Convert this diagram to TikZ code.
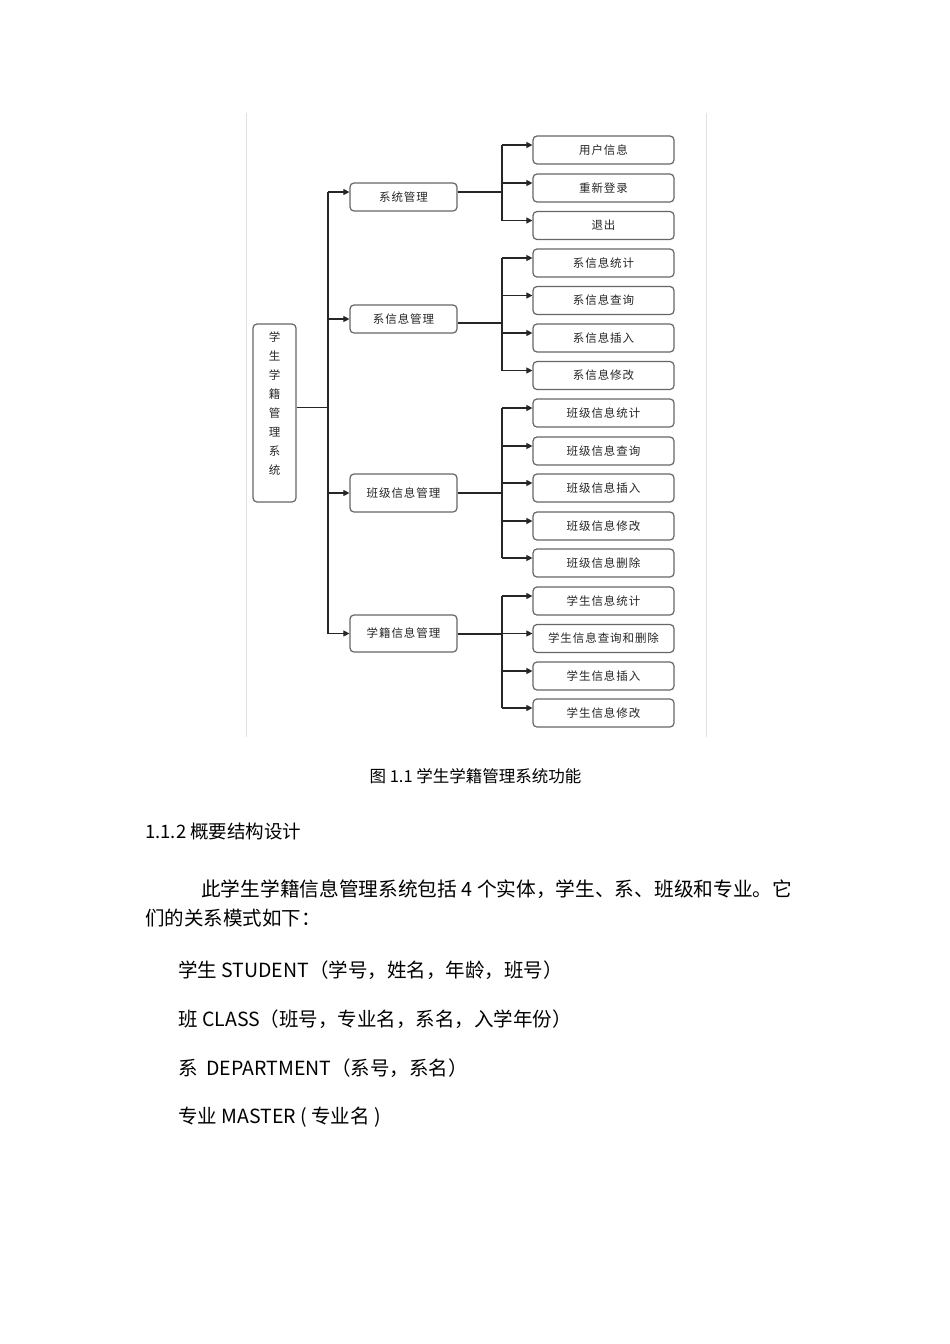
\documentclass[tikz,border=0pt]{standalone}
\usepackage{fontspec}
\setmainfont{Noto Sans CJK SC}
\newfontfamily\boxfont[LetterSpace=8]{Noto Sans CJK SC}
\usetikzlibrary{arrows.meta}
\tikzset{
  box/.style={draw=black!60, line width=1.2pt, rounded corners=4pt, fill=white,
    inner sep=0pt, font=\boxfont\fontsize{11.5pt}{13pt}\selectfont, text=black!85},
  lvtwo/.style={box, minimum width=107pt},
  lvthree/.style={box, minimum width=141pt, minimum height=28pt},
  wire/.style={draw=black!85, line width=1.1pt},
  arr/.style={wire, -{Triangle[length=6pt,width=6pt]}},
  frameline/.style={draw=black!12, line width=1pt},
  body/.style={anchor=west, inner sep=0pt, font=\fontsize{19.5pt}{22pt}\selectfont},
}
\begin{document}
\begin{tikzpicture}[x=1pt,y=-1pt]
\useasboundingbox[fill=white] (0,0) rectangle (950,1344);
% frame
\draw[frameline] (246.5,113) -- (246.5,737);
\draw[frameline] (706,113) -- (706,737);

% root
\node[box, minimum width=43pt, minimum height=178pt] (root) at (274.5,413) {};
\node[inner sep=0pt, align=center, font=\boxfont\fontsize{11.5pt}{19pt}\selectfont, text=black!85]
  (roottext) at (274.5,404) {学\\生\\学\\籍\\管\\理\\系\\统};

% level 2
\node[lvtwo, minimum height=28pt] (a) at (403.5,197) {系统管理};
\node[lvtwo, minimum height=28pt] (b) at (403.5,319) {系信息管理};
\node[lvtwo, minimum height=38pt] (c) at (403.5,493) {班级信息管理};
\node[lvtwo, minimum height=37pt] (d) at (403.5,633.5) {学籍信息管理};

% level 3
\node[lvthree] (a1) at (603.5,150) {用户信息};
\node[lvthree] (a2) at (603.5,188) {重新登录};
\node[lvthree] (a3) at (603.5,225.5) {退出};
\node[lvthree] (b1) at (603.5,263) {系信息统计};
\node[lvthree] (b2) at (603.5,300.5) {系信息查询};
\node[lvthree] (b3) at (603.5,338) {系信息插入};
\node[lvthree] (b4) at (603.5,375.5) {系信息修改};
\node[lvthree] (c1) at (603.5,413) {班级信息统计};
\node[lvthree] (c2) at (603.5,451) {班级信息查询};
\node[lvthree] (c3) at (603.5,488) {班级信息插入};
\node[lvthree] (c4) at (603.5,526) {班级信息修改};
\node[lvthree] (c5) at (603.5,563) {班级信息删除};
\node[lvthree] (d1) at (603.5,601) {学生信息统计};
\node[lvthree] (d2) at (603.5,638.5) {学生信息查询和删除};
\node[lvthree] (d3) at (603.5,676) {学生信息插入};
\node[lvthree] (d4) at (603.5,713) {学生信息修改};

% trunk from root
\coordinate (t0) at (328,407.5);
\coordinate (ta) at (328,192);
\coordinate (td) at (328,633.5);
\draw[wire] (root.east |- t0) -- (t0);
\draw[wire] (ta) -- (td);
\draw[arr] (ta) -- ([yshift=5pt]a.west);
\draw[arr] (328,319) coordinate (tb) -- (b.west);
\draw[arr] (328,493) coordinate (tc) -- (c.west);
\draw[arr] (td) -- (d.west);

% bus A
\coordinate (ao) at (502,192);
\draw[wire] ([yshift=5pt]a.east) -- (ao);
\draw[wire] (502,145) coordinate (aT) -- (502,220.5) coordinate (aB);
\draw[arr] (aT) -- ([yshift=5pt]a1.west);
\draw[arr] (502,183) coordinate (a2p) -- ([yshift=5pt]a2.west);
\draw[arr] (aB) -- ([yshift=5pt]a3.west);

% bus B
\coordinate (bo) at (502,323);
\draw[wire] (b.east |- bo) -- (bo);
\draw[wire] (502,258) coordinate (bT) -- (502,370.5) coordinate (bB);
\draw[arr] (bT) -- ([yshift=5pt]b1.west);
\draw[arr] (502,295.5) coordinate (b2p) -- ([yshift=5pt]b2.west);
\draw[arr] (502,333) coordinate (b3p) -- ([yshift=5pt]b3.west);
\draw[arr] (bB) -- ([yshift=5pt]b4.west);

% bus C
\coordinate (co) at (502,493);
\draw[wire] (c.east) -- (co);
\draw[wire] (502,408) coordinate (cT) -- (502,558) coordinate (cB);
\draw[arr] (cT) -- ([yshift=5pt]c1.west);
\draw[arr] (502,446) coordinate (c2p) -- ([yshift=5pt]c2.west);
\draw[arr] (502,483) coordinate (c3p) -- ([yshift=5pt]c3.west);
\draw[arr] (502,521) coordinate (c4p) -- ([yshift=5pt]c4.west);
\draw[arr] (cB) -- ([yshift=5pt]c5.west);

% bus D
\coordinate (do) at (502,634);
\draw[wire] (d.east |- do) -- (do);
\draw[wire] (502,596) coordinate (dT) -- (502,708) coordinate (dB);
\draw[arr] (dT) -- ([yshift=5pt]d1.west);
\draw[arr] (502,633.5) coordinate (d2p) -- ([yshift=5pt]d2.west);
\draw[arr] (502,671) coordinate (d3p) -- ([yshift=5pt]d3.west);
\draw[arr] (dB) -- ([yshift=5pt]d4.west);

% text below
\node[inner sep=0pt, font=\fontsize{16.5pt}{20pt}\selectfont] (cap) at (475.5,776) {图 1.1 学生学籍管理系统功能};
\node[body, font=\fontsize{18.5pt}{22pt}\selectfont] (head) at (145,831) {1.1.2 概要结构设计};
\node[body, font=\fontsize{19.7pt}{22pt}\selectfont] (p1) at (201,889) {此学生学籍信息管理系统包括 4 个实体，学生、系、班级和专业。它};
\node[body] (p2) at (145,918) {们的关系模式如下：};
\node[body] (e1) at (178,970) {学生 STUDENT（学号，姓名，年龄，班号）};
\node[body] (e2) at (178,1019) {班 CLASS（班号，专业名，系名，入学年份）};
\node[body] (e3) at (178,1068) {系\ \ DEPARTMENT（系号，系名）};
\node[body] (e4) at (178,1117) {专业 MASTER ( 专业名 )};
\end{tikzpicture}
\end{document}
